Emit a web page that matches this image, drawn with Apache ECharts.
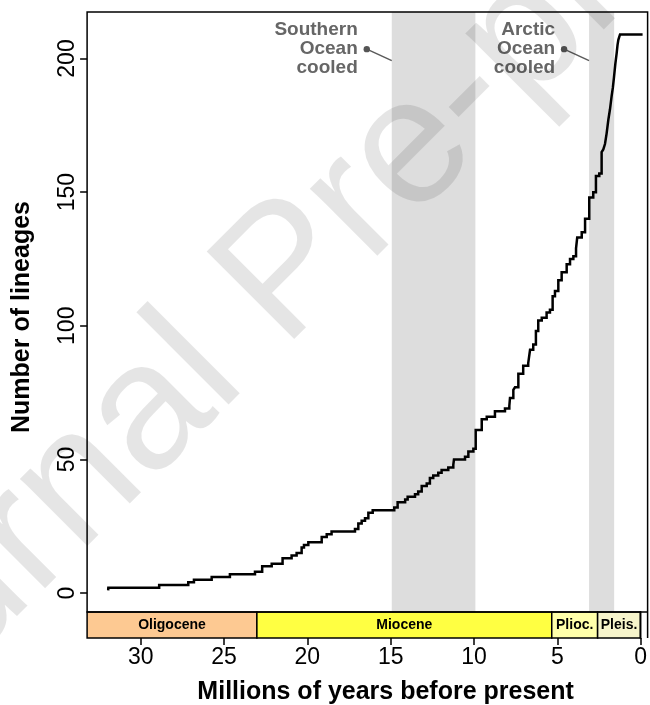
<!DOCTYPE html>
<html><head><meta charset="utf-8">
<script src="https://cdn.jsdelivr.net/npm/echarts@6/dist/echarts.min.js"></script>
<style>html,body{margin:0;padding:0;background:#fff}#c{width:650px;height:705px}</style>
</head><body><div id="c"></div>
<script>
// Lineage-through-time data: age (Ma before present) at which count changes, and new count
const ages = [31.96, 31.95, 28.91, 27.17, 26.83, 25.77, 24.68, 23.18, 22.75, 22.18, 21.53, 20.99, 20.69, 20.39, 20.25, 19.99,
  19.19, 18.89, 18.6, 17.2, 17.0, 16.8, 16.6, 16.4, 16.14,
  14.85, 14.65, 14.2, 14.05, 13.61, 13.42, 13.21, 12.91, 12.72, 12.52, 12.22, 12.02, 11.62, 11.32, 11.28, 10.62, 10.42, 10.12, 9.98,
  9.62, 9.32, 8.83, 8.23, 7.97, 7.93, 7.73, 7.63, 7.43, 7.14, 6.84, 6.73, 6.54, 6.38, 6.24, 6.03, 5.74, 5.54, 5.38, 5.24, 5.04,
  4.84, 4.54, 4.34, 4.14, 3.98, 3.91, 3.64, 3.44, 3.19, 2.95, 2.79, 2.59, 2.45, 2.35, 2.25, 2.15, 2.05, 1.95, 1.85, 1.78, 1.71,
  1.63, 1.55, 1.50, 1.45, 1.40, 1.35, 0];
const lineages = [1, 2, 3, 4, 5, 6, 7, 8, 10, 11, 13, 14, 15, 17, 18, 19,
  21, 22, 23, 24, 26, 27, 28, 30, 31,
  32, 34, 35, 36, 37, 38, 40, 41, 43, 44, 45, 46, 47, 48, 50, 51, 53, 54, 61,
  65, 66, 68, 69, 70, 73, 76, 77, 82, 85, 86, 91, 93, 98, 102, 103, 105, 106, 111, 113, 117,
  120, 123, 125, 126, 129, 133, 135, 140, 148, 150, 156, 157, 165, 166, 168, 172, 177, 181, 186, 189, 193,
  198, 202, 205, 207, 208, 209, 209];

const xTicks = [0, 5, 10, 15, 20, 25, 30];
const yTicks = [0, 50, 100, 150, 200];

const epochNames = ['Oligocene', 'Miocene', 'Plioc.', 'Pleis.', ''];
const epochStart = [33.9, 23.03, 5.333, 2.58, 0.0117];
const epochEnd = [23.03, 5.333, 2.58, 0.0117, 0];
const epochColors = ['#FDC992', '#FFFF42', '#FFFFAA', '#F6F4CB', '#FEF2E0'];

const bandStart = [15, 3.2];
const bandEnd = [10, 1.7];
const bandLabels = ['Southern\nOcean\ncooled', 'Arctic\nOcean\ncooled'];
const bandLabelLevel = 199.2;

const FONT = '"Liberation Sans", Arial, Helvetica, sans-serif';
const chart = echarts.init(document.getElementById('c'), null, {renderer: 'canvas'});

const option = {
  animation: false,
  backgroundColor: '#fff',
  grid: [
    {left: 87.1, top: 12, right: 0, height: 600, show: false},
    {left: 87.1, top: 612, right: 7.4, height: 26, show: false}
  ],
  xAxis: [
    {gridIndex: 0, type: 'value', inverse: true, min: -0.443, max: 33.22,
     axisLine: {show: false, onZero: false}, axisTick: {show: false}, axisLabel: {show: false}, splitLine: {show: false}},
    {gridIndex: 1, type: 'value', inverse: true, min: 0, max: 33.22,
     axisLine: {show: false, onZero: false},
     axisTick: {show: true, length: 7, customValues: xTicks, lineStyle: {color: '#000', width: 1.5}},
     axisLabel: {customValues: xTicks, fontSize: 23, color: '#000', fontFamily: FONT, margin: 8},
     splitLine: {show: false}}
  ],
  yAxis: [
    {gridIndex: 0, type: 'value', min: -7.1, max: 217.4,
     axisLine: {show: false, onZero: false},
     axisTick: {show: true, length: 7, customValues: yTicks, lineStyle: {color: '#000', width: 1.5}},
     axisLabel: {customValues: yTicks, rotate: 90, fontSize: 23, color: '#000', fontFamily: FONT, margin: 8},
     splitLine: {show: false}},
    {gridIndex: 1, type: 'value', min: 0, max: 1, show: false}
  ],
  series: [
    {type: 'line', xAxisIndex: 0, yAxisIndex: 0, data: [], z: 1, silent: true,
     markArea: {silent: true, itemStyle: {color: '#DDDDDD', borderWidth: 0},
       data: bandStart.map((s, i) => [{xAxis: s}, {xAxis: bandEnd[i]}])}},
    {type: 'line', xAxisIndex: 0, yAxisIndex: 0, z: 5, step: 'end', symbol: 'none', showSymbol: false,
     data: ages.map((a, i) => [a, lineages[i]]),
     lineStyle: {color: '#000', width: 2.5, join: 'miter'}},
    {type: 'custom', xAxisIndex: 1, yAxisIndex: 1, clip: false, z: 3,
     data: epochNames.map((n, i) => [epochStart[i], epochEnd[i], i]),
     renderItem: function (params, api) {
       const i = api.value(2);
       const p0 = api.coord([api.value(0), 1]);
       const p1 = api.coord([api.value(1), 0]);
       const cs = params.coordSys;
       const x0 = Math.max(p0[0], cs.x);
       const x1 = Math.min(p1[0], cs.x + cs.width);
       return {
         type: 'rect',
         shape: {x: x0, y: p0[1], width: x1 - x0, height: p1[1] - p0[1]},
         style: {fill: epochColors[i], stroke: '#000', lineWidth: 1.5},
         textContent: {style: {text: epochNames[i], font: 'bold 14px ' + FONT, fill: '#000'}},
         textConfig: {position: 'inside'}
       };
     }}
  ]
};
chart.setOption(option);

// Frame, titles, annotations, watermark
const tl = chart.convertToPixel({xAxisIndex: 0, yAxisIndex: 0}, [33.22, 217.4]);
const br = chart.convertToPixel({xAxisIndex: 0, yAxisIndex: 0}, [-0.3, -7.1]);
const barBottom = chart.convertToPixel({xAxisIndex: 1, yAxisIndex: 1}, [0, 0]);
const graphics = [
  {type: 'polyline', z: 50, silent: true,
   shape: {points: [[br[0], barBottom[1]], [br[0], tl[1]], [tl[0], tl[1]], [tl[0], br[1]], [br[0], br[1]]]},
   style: {fill: null, stroke: '#000', lineWidth: 1.5}},
  {type: 'text', z: 50, x: 385.6, y: 692, silent: true,
   style: {text: 'Millions of years before present', font: 'bold 25px ' + FONT, fill: '#000', textAlign: 'center', textVerticalAlign: 'middle'}},
  {type: 'text', z: 50, x: 22, y: 317, rotation: Math.PI / 2, silent: true,
   style: {text: 'Number of lineages', font: 'bold 25px ' + FONT, fill: '#000', textAlign: 'center', textVerticalAlign: 'middle'}}
];
bandStart.forEach((s, i) => {
  const p = chart.convertToPixel({xAxisIndex: 0, yAxisIndex: 0}, [s, bandLabelLevel]);
  const d = [p[0] - 25, p[1] - 11.5];
  graphics.push({type: 'line', z: 40, silent: true, shape: {x1: d[0], y1: d[1], x2: p[0], y2: p[1]},
    style: {stroke: '#5a5a5a', lineWidth: 1.5}});
  graphics.push({type: 'circle', z: 40, silent: true, shape: {cx: d[0], cy: d[1], r: 3.2}, style: {fill: '#555'}});
  graphics.push({type: 'text', z: 40, silent: true, x: d[0] - 9, y: d[1],
    style: {text: bandLabels[i], font: 'bold 19px ' + FONT, fill: '#666', textAlign: 'right', textVerticalAlign: 'middle', lineHeight: 19}});
});
graphics.push({type: 'text', z: 100, silent: true, x: 287.5, y: 275.5, rotation: Math.PI / 4,
  style: {text: 'Journal Pre-proof', font: '180px ' + FONT, fill: 'rgba(0,0,0,0.1)', textAlign: 'center', textVerticalAlign: 'middle'}});
chart.setOption({graphic: graphics});
</script></body></html>
